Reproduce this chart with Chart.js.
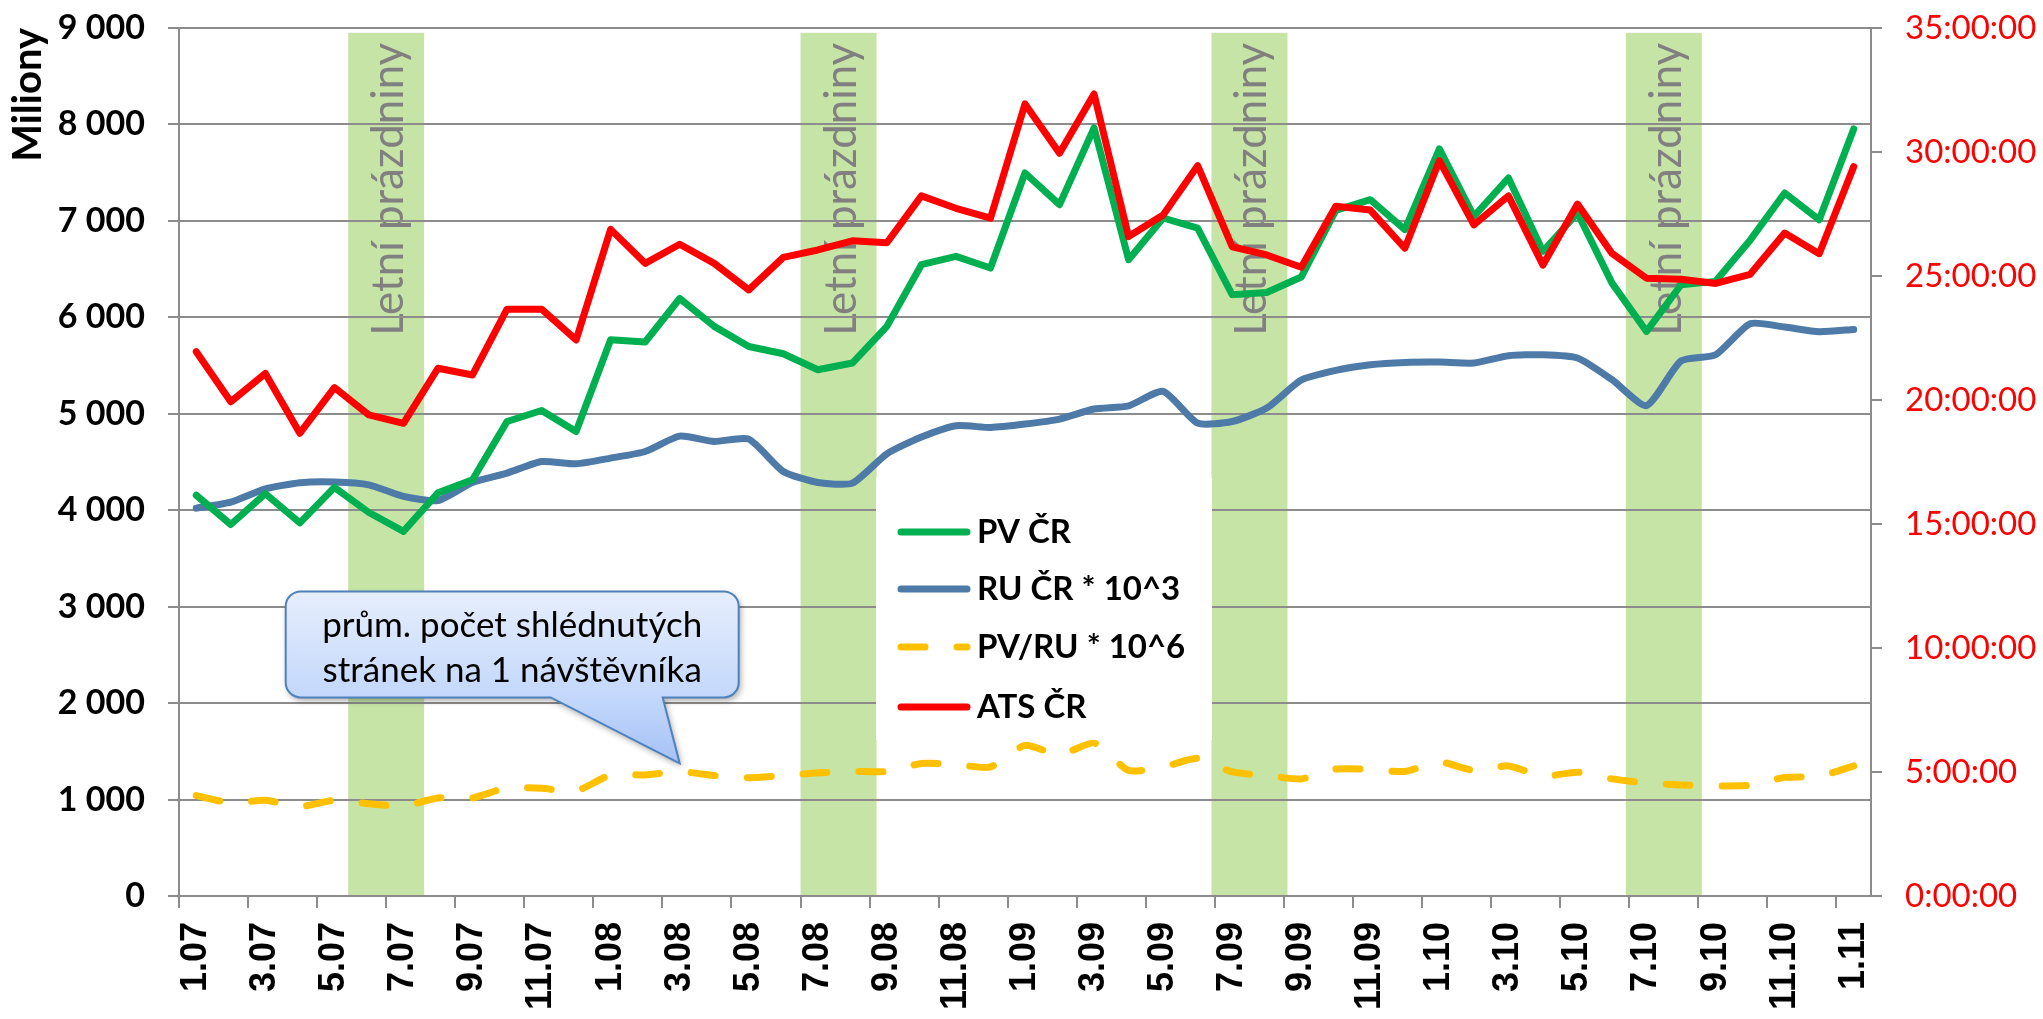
<!DOCTYPE html>
<html lang="cs">
<head>
<meta charset="UTF-8">
<title>PV, RU, ATS ČR 2007–2011</title>
<script src="https://cdn.jsdelivr.net/npm/chart.js"></script>
<style>
    html, body { margin: 0; padding: 0; background: #fff; }
    #wrap { width: 2043px; height: 1019px; }
</style>
</head>
<body>
<div id="wrap"><canvas id="chart" width="2043" height="1019"></canvas></div>

<script>
    // měsíce 1.07 - 1.11
    const labels = ['1.07','2.07','3.07','4.07','5.07','6.07','7.07','8.07','9.07','10.07','11.07','12.07',
                    '1.08','2.08','3.08','4.08','5.08','6.08','7.08','8.08','9.08','10.08','11.08','12.08',
                    '1.09','2.09','3.09','4.09','5.09','6.09','7.09','8.09','9.09','10.09','11.09','12.09',
                    '1.10','2.10','3.10','4.10','5.10','6.10','7.10','8.10','9.10','10.10','11.10','12.10',
                    '1.11'];

    // PV ČR (miliony)
    const pvCR = [4155,3852,4172,3869,4237,3976,3780,4180,4315,4920,5034,4816,
                  5768,5744,6195,5906,5698,5622,5456,5526,5906,6546,6632,6511,
                  7497,7168,7964,6598,7030,6926,6234,6258,6418,7109,7220,6909,
                  7746,7047,7445,6684,7082,6355,5854,6338,6373,6800,7289,7012,
                  7953];

    // RU ČR * 10^3
    const ruCR = [4022,4085,4222,4285,4293,4263,4143,4101,4288,4385,4505,4481,
                  4540,4609,4768,4713,4737,4401,4288,4281,4585,4758,4876,4858,
                  4893,4945,5049,5083,5232,4903,4920,5059,5350,5450,5508,5532,
                  5536,5526,5602,5612,5578,5353,5085,5548,5612,5934,5899,5850,
                  5875];

    // PV/RU * 10^6
    const pvRu = [1041,965,992,927,992,956,934,1017,1017,1123,1116,1089,
                  1255,1255,1290,1249,1227,1249,1277,1291,1291,1374,1363,1338,
                  1562,1463,1587,1302,1338,1427,1286,1249,1214,1316,1313,1291,
                  1391,1302,1349,1242,1284,1214,1170,1152,1141,1148,1230,1242,
                  1349];

    // ATS ČR (hodiny)
    const atsCR = [21.95,19.93,21.07,18.66,20.50,19.40,19.06,21.28,21.01,23.66,23.66,22.42,
                   26.88,25.51,26.28,25.51,24.44,25.75,26.05,26.42,26.34,28.23,27.73,27.33,
                   31.94,29.95,32.34,26.59,27.46,29.45,26.18,25.85,25.35,27.81,27.66,26.12,
                   29.65,27.06,28.23,25.44,27.90,25.91,24.91,24.87,24.70,25.07,26.73,25.90,
                   29.41];

    // letní prázdniny (hranice v indexech kategorií)
    const holidays = [[4.9, 7.1], [18.0, 20.2], [29.9, 32.1], [41.9, 44.1]];
    const holidayText = 'Letní prázdniny';

    const calloutLines = ['prům. počet shlédnutých', 'stránek na 1 návštěvníka'];

    const gridGray = '#8c8c8c';

    function thousands(v) {
        if (v === 0) return '0';
        return Math.floor(v / 1000) + ' ' + String(v % 1000).padStart(3, '0');
    }

    // svislé osy bez extra odsazení nahoře/dole
    function fixWidth(w) {
        return s => { s.width = w; s.paddingTop = 0; s.paddingBottom = 0; };
    }

    // zelené pruhy pod mřížkou
    const bandsPlugin = {
        id: 'bands',
        beforeDraw(chart) {
            const ctx = chart.ctx, x = chart.scales.x, y = chart.scales.y;
            ctx.save();
            ctx.fillStyle = '#fff';
            ctx.fillRect(0, 0, chart.width, chart.height);
            const top = y.getPixelForValue(8950), bottom = y.getPixelForValue(0);
            holidays.forEach(([a, b]) => {
                const x0 = x.getPixelForValue(a - 0.5), x1 = x.getPixelForValue(b - 0.5);
                ctx.fillStyle = '#c6e4a6';
                ctx.fillRect(x0, top, x1 - x0, bottom - top);
                ctx.save();
                ctx.translate((x0 + x1) / 2 + 17, top + 303);
                ctx.rotate(-Math.PI / 2);
                ctx.font = '44px Lato';
                const w = ctx.measureText(holidayText).width;
                ctx.font = (44 * 293 / w).toFixed(1) + 'px Lato';
                ctx.fillStyle = '#808080';
                ctx.textAlign = 'left';
                ctx.textBaseline = 'alphabetic';
                ctx.fillText(holidayText, 0, 0);
                ctx.restore();
            });
            ctx.restore();
        }
    };

    // bublina s popiskem
    const calloutPlugin = {
        id: 'callout',
        afterDraw(chart) {
            const ctx = chart.ctx;
            const ax = chart.scales.x.getPixelForValue(14);
            const ay = chart.scales.y.getPixelForValue(1375);
            const L = ax - 394, R = ax + 59, T = ay - 172, B = ay - 66, r = 15;
            const b1 = ax - 129, b2 = ax - 17;
            ctx.save();
            ctx.beginPath();
            ctx.moveTo(L + r, T);
            ctx.lineTo(R - r, T);
            ctx.arcTo(R, T, R, T + r, r);
            ctx.lineTo(R, B - r);
            ctx.arcTo(R, B, R - r, B, r);
            ctx.lineTo(b2, B);
            ctx.lineTo(ax, ay);
            ctx.lineTo(b1, B);
            ctx.lineTo(L + r, B);
            ctx.arcTo(L, B, L, B - r, r);
            ctx.lineTo(L, T + r);
            ctx.arcTo(L, T, L + r, T, r);
            ctx.closePath();
            const g = ctx.createLinearGradient(0, T, 0, ay);
            g.addColorStop(0, '#e6eefc');
            g.addColorStop(0.6, '#c4d8fb');
            g.addColorStop(1, '#a5c2f6');
            ctx.fillStyle = g;
            ctx.shadowColor = 'rgba(0,0,0,0.35)';
            ctx.shadowBlur = 6;
            ctx.shadowOffsetX = 2;
            ctx.shadowOffsetY = 3;
            ctx.fill();
            ctx.shadowColor = 'transparent';
            ctx.strokeStyle = '#4f81bd';
            ctx.lineWidth = 2;
            ctx.stroke();
            ctx.fillStyle = '#000';
            ctx.font = '35px Lato';
            ctx.textAlign = 'center';
            ctx.textBaseline = 'middle';
            ctx.fillText(calloutLines[0], (L + R) / 2, T + 34);
            ctx.fillText(calloutLines[1], (L + R) / 2, T + 79);
            ctx.restore();
        }
    };

    // legenda uvnitř grafu
    const legendPlugin = {
        id: 'boxLegend',
        afterDraw(chart) {
            const ctx = chart.ctx;
            const left = 876, top = 478, width = 336, height = 262;
            const rows = [54, 111, 169, 229];
            ctx.save();
            ctx.fillStyle = '#fff';
            ctx.fillRect(left, top, width, height);
            chart.data.datasets.forEach((ds, i) => {
                const cy = top + rows[i];
                ctx.beginPath();
                ctx.strokeStyle = ds.borderColor;
                ctx.lineWidth = 7;
                ctx.lineCap = 'round';
                ctx.setLineDash(ds.borderDash || []);
                ctx.moveTo(left + 25, cy);
                ctx.lineTo(left + 91, cy);
                ctx.stroke();
                ctx.setLineDash([]);
                ctx.fillStyle = '#000';
                ctx.font = 'bold 33px Lato';
                ctx.textAlign = 'left';
                ctx.textBaseline = 'middle';
                ctx.fillText(ds.label, left + 101, cy);
            });
            ctx.restore();
        }
    };

    const line = (label, data, color, axis, extra) => Object.assign({
        label: label,
        data: data,
        yAxisID: axis,
        borderColor: color,
        backgroundColor: color,
        borderWidth: 7,
        pointRadius: 0,
        borderJoinStyle: 'round',
        borderCapStyle: 'round',
        tension: 0,
        fill: false
    }, extra);

    new Chart(document.getElementById('chart'), {
        type: 'line',
        data: {
            labels: labels,
            datasets: [
                line('PV ČR', pvCR, '#00b050', 'y', { order: 1 }),
                line('RU ČR * 10^3', ruCR, '#4e7aa8', 'y', { order: 2, tension: 0.2 }),
                line('PV/RU * 10^6', pvRu, '#ffc000', 'y', { order: 3, tension: 0.2, borderDash: [24, 32] }),
                line('ATS ČR', atsCR, '#ff0000', 'y1', { order: 0 })
            ]
        },
        options: {
            responsive: false,
            animation: false,
            layout: { padding: { top: 28, left: 0, right: 0, bottom: 0 } },
            plugins: {
                legend: { display: false },
                tooltip: { enabled: false }
            },
            scales: {
                x: {
                    offset: true,
                    afterFit: s => { s.height = 123; },
                    grid: {
                        offset: true,
                        drawOnChartArea: false,
                        tickLength: 12,
                        lineWidth: 2,
                        color: c => (c.index % 2 === 0 ? gridGray : 'rgba(0,0,0,0)')
                    },
                    border: { color: gridGray, width: 2 },
                    ticks: {
                        autoSkip: false,
                        minRotation: 90,
                        maxRotation: 90,
                        padding: 14,
                        color: '#000',
                        font: { family: '"Liberation Sans", Arial, sans-serif', size: 36, weight: 'bold' },
                        callback: (v, i) => (i % 2 === 0 ? labels[i] : '')
                    }
                },
                y: {
                    position: 'left',
                    min: 0,
                    max: 9000,
                    afterFit: fixWidth(179),
                    grid: { color: gridGray, lineWidth: 2, tickLength: 11 },
                    border: { color: gridGray, width: 2 },
                    title: {
                        display: true,
                        text: 'Miliony',
                        align: 'end',
                        color: '#000',
                        padding: { top: 4, bottom: 0 },
                        font: { family: 'Lato', size: 40, weight: 'bold' }
                    },
                    ticks: {
                        stepSize: 1000,
                        padding: 23,
                        color: '#000',
                        font: { family: 'Lato', size: 34, weight: 'bold' },
                        callback: v => thousands(v)
                    }
                },
                y1: {
                    position: 'right',
                    min: 0,
                    max: 35,
                    afterFit: fixWidth(172),
                    grid: { drawOnChartArea: false, color: gridGray, lineWidth: 2, tickLength: 11 },
                    border: { color: gridGray, width: 2 },
                    ticks: {
                        stepSize: 5,
                        padding: 23,
                        color: '#ff0000',
                        font: { family: 'Lato', size: 33 },
                        callback: v => v + ':00:00'
                    }
                }
            }
        },
        plugins: [bandsPlugin, legendPlugin, calloutPlugin]
    });
</script>
</body>
</html>
